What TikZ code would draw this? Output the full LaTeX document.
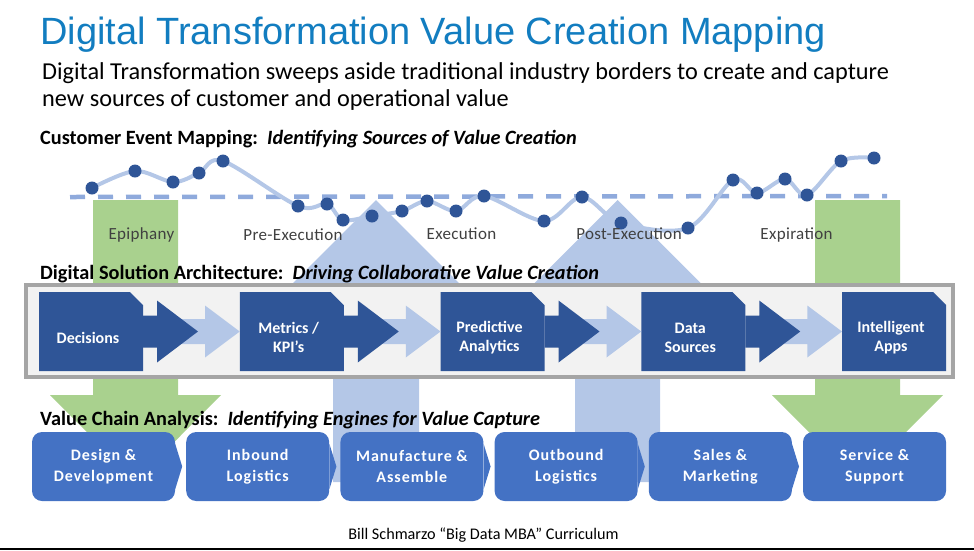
\documentclass[tikz,border=0pt]{standalone}
\usepackage{fontspec}
\setmainfont{Carlito}
\newfontfamily\titlefont{Liberation Sans}
\newfontfamily\phasefont[LetterSpace=2]{Carlito}
\newfontfamily\chainfont[LetterSpace=6]{Carlito}
\usetikzlibrary{positioning, calc}

\definecolor{titleblue}{RGB}{18,125,192}
\definecolor{darkblue}{RGB}{47,85,151}
\definecolor{midblue}{RGB}{68,114,196}
\definecolor{paleblue}{RGB}{180,199,231}
\definecolor{dashblue}{RGB}{143,170,220}
\definecolor{leafgreen}{RGB}{169,209,142}
\definecolor{framegray}{RGB}{165,165,165}
\definecolor{panelgray}{RGB}{242,242,242}
\definecolor{phasegray}{RGB}{64,64,64}

\begin{document}
\begin{tikzpicture}[x=1pt,y=-1pt,
    heading/.style={anchor=west,inner sep=0,font=\fontsize{20.3}{24}\selectfont\bfseries},
    phase/.style={inner sep=0,text=phasegray,font=\phasefont\fontsize{17}{20}\selectfont},
    blocktext/.style={align=center,text=white,inner sep=0,font=\fontsize{16}{19}\selectfont\bfseries},
    chainbox/.style={fill=midblue,rounded corners=10pt,minimum width=143pt,minimum height=69pt,
      align=center,text=white,inner sep=0,font=\chainfont\bfseries\fontsize{16}{21}\selectfont}]
    \useasboundingbox (0,0) rectangle (974,550);

    % big arrows behind everything
    \fill[leafgreen] (93,200) -- (178,200) -- (178,395) -- (221,395) -- (135.5,481) -- (50,395) -- (93,395) -- cycle;
    \fill[leafgreen] (815,200) -- (900,200) -- (900,395) -- (943,395) -- (857.5,481) -- (772,395) -- (815,395) -- cycle;
    \fill[paleblue] (333,482) -- (333,286) -- (290,286) -- (376,200) -- (462,286) -- (419,286) -- (419,482) -- cycle;
    \fill[paleblue] (575,482) -- (575,286) -- (531.5,286) -- (617.5,200) -- (703.5,286) -- (660,286) -- (660,482) -- cycle;

    \node[anchor=base west,inner sep=0,text=titleblue,font=\titlefont\fontsize{38}{42}\selectfont] (title) at (40,44)
      {Digital Transformation Value Creation Mapping};
    \node[anchor=base west,inner sep=0,font=\fontsize{24.3}{27}\selectfont] (sub1) at (42,79)
      {Digital Transformation sweeps aside traditional industry borders to create and capture};
    \node[anchor=base west,inner sep=0,font=\fontsize{24.3}{27}\selectfont] (sub2) at (42,106)
      {new sources of customer and operational value};

    % customer event mapping
    \node[heading] (cem) at (40,139) {Customer Event Mapping:\ \ \textit{Identifying Sources of Value Creation}};
    \draw[dashblue,line width=4.5pt,dash pattern=on 15pt off 13pt] (70,197) -- (887,196);
    \draw[paleblue,line width=4pt] plot[smooth,tension=0.55] coordinates {(92,188) (135,171) (173,182) (199,173)
      (223,161) (298,206) (327,204) (343,220) (372,216) (402,211) (427,201) (456,211) (484,196) (544,221)
      (582,197) (621,223) (688,228) (733,180) (757,193) (785,179) (807,195) (841,161) (874,158)};
    \foreach \x/\y in {92/188,135/171,173/182,199/173,223/161,298/206,327/204,343/220,372/216,402/211,
      427/201,456/211,484/196,544/221,582/197,621/223,688/228,733/180,757/193,785/179,807/195,841/161,874/158}
      \fill[darkblue] (\x,\y) circle (6.5);
    \node[phase] (epiphany) at (141.5,235) {Epiphany};
    \node[phase] (preexec) at (293,235) {Pre-Execution};
    \node[phase] (exec) at (461.5,234) {Execution};
    \node[phase] (postexec) at (629,234) {Post-Execution};
    \node[phase] (expire) at (796.5,235) {Expiration};

    % digital solution architecture
    \node[heading] (dsa) at (40,274) {Digital Solution Architecture:\ \ \textit{Driving Collaborative Value Creation}};
    \draw[framegray,line width=4pt,fill=panelgray] (26,285) rectangle (953,377);
    \foreach \i in {1,...,5} {
      \pgfmathsetmacro\bx{39+200.75*(\i-1)}
      \fill[darkblue] (\bx,292) -- (\bx+91,292) -- (\bx+104,305) -- (\bx+104,371) -- (\bx,371) -- cycle;
      \coordinate (l\i) at (\bx,331.5);
      \coordinate (r\i) at (\bx+104,331.5);
    }
    \foreach \i [evaluate=\i as \j using int(\i+1)] in {1,...,4} {
      \fill[paleblue] ($(r\i)+(39,-12.5)$) -- ++(23,0) -- ++(0,-13.5) -- (l\j) -- ($(r\i)+(62,26)$) -- ++(0,-13.5) -- ++(-23,0) -- cycle;
      \fill[darkblue] ($(r\i)+(0,-16)$) -- ++(14,0) -- ++(0,-15) -- ($(r\i)+(55,0)$) -- ($(r\i)+(14,31)$) -- ++(0,-15) -- ++(-14,0) -- cycle;
    }
    \foreach \t [count=\i] in {Decisions, {Metrics /\\KPI’s}, {Predictive\\Analytics}, {Data\\Sources}, {Intelligent\\Apps}}
      \node[blocktext] (b\i) at ($(l\i)!0.5!(r\i)+(-3,6)$) {\t};

    % value chain analysis
    \node[heading] (vca) at (40,420) {Value Chain Analysis:\ \ \textit{Identifying Engines for Value Capture}};
    \foreach \t [count=\i] in {Design \&\\Development, Inbound\\Logistics, Manufacture \&\\Assemble,
      Outbound\\Logistics, Sales \&\\Marketing, Service \&\\Support}
      \node[chainbox] (v\i) at ({103.5+154.2*(\i-1)},466.5) {\t};
    \foreach \i in {1,...,5}
      \fill[midblue] ($(v\i.north east)+(0,12)$) -- ($(v\i.east)+(7,0)$) -- ($(v\i.south east)+(0,-12)$) -- cycle;

    \node[inner sep=0,font=\fontsize{16.2}{19}\selectfont] (credit) at (483.5,535) {Bill Schmarzo “Big Data MBA” Curriculum};
    \fill[black] (0,547.5) rectangle (974,550);
\end{tikzpicture}
\end{document}
